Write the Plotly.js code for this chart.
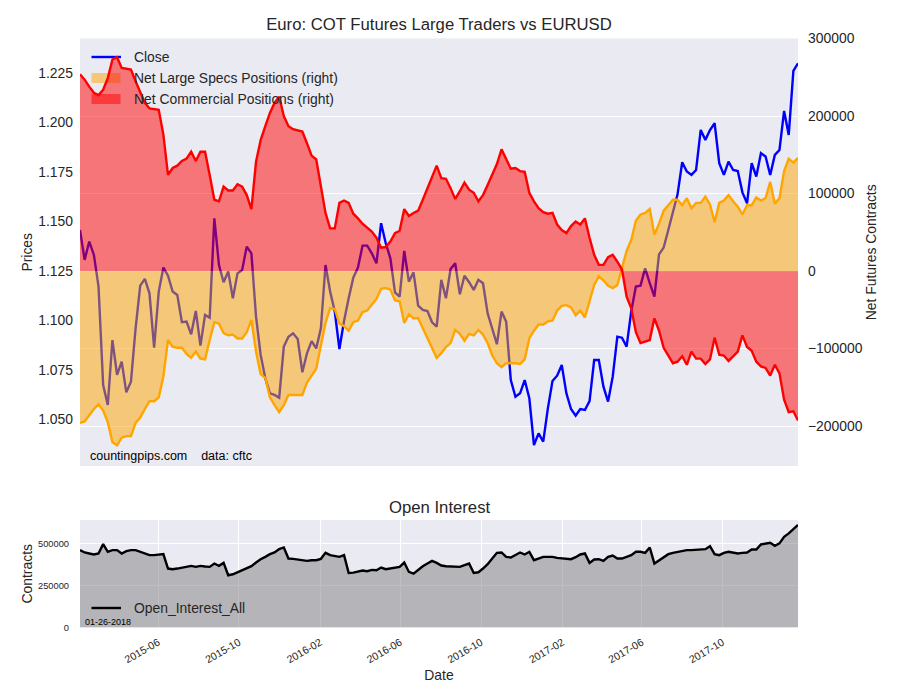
<!DOCTYPE html>
<html>
<head>
<meta charset="utf-8">
<script src="https://cdn.plot.ly/plotly-3.0.1.min.js"></script>
<style>html,body{margin:0;padding:0;background:#fff;}#chart{width:900px;height:700px;}</style>
</head>
<body>
<div id="chart"></div>
<script>
// Weekly COT report dates (Tuesdays)
const dates = [
'2015-02-03','2015-02-10','2015-02-17','2015-02-24','2015-03-03','2015-03-10','2015-03-17','2015-03-24','2015-03-31','2015-04-07',
'2015-04-14','2015-04-21','2015-04-28','2015-05-05','2015-05-12','2015-05-19','2015-05-26','2015-06-02','2015-06-09','2015-06-16',
'2015-06-23','2015-06-30','2015-07-07','2015-07-14','2015-07-21','2015-07-28','2015-08-04','2015-08-11','2015-08-18','2015-08-25',
'2015-09-01','2015-09-08','2015-09-15','2015-09-22','2015-09-29','2015-10-06','2015-10-13','2015-10-20','2015-10-27','2015-11-03',
'2015-11-10','2015-11-17','2015-11-24','2015-12-01','2015-12-08','2015-12-15','2015-12-22','2015-12-29','2016-01-05','2016-01-12',
'2016-01-19','2016-01-26','2016-02-02','2016-02-09','2016-02-16','2016-02-23','2016-03-01','2016-03-08','2016-03-15','2016-03-22',
'2016-03-29','2016-04-05','2016-04-12','2016-04-19','2016-04-26','2016-05-03','2016-05-10','2016-05-17','2016-05-24','2016-05-31',
'2016-06-07','2016-06-14','2016-06-21','2016-06-28','2016-07-05','2016-07-12','2016-07-19','2016-07-26','2016-08-02','2016-08-09',
'2016-08-16','2016-08-23','2016-08-30','2016-09-06','2016-09-13','2016-09-20','2016-09-27','2016-10-04','2016-10-11','2016-10-18',
'2016-10-25','2016-11-01','2016-11-08','2016-11-15','2016-11-22','2016-11-29','2016-12-06','2016-12-13','2016-12-20','2016-12-27',
'2017-01-03','2017-01-10','2017-01-17','2017-01-24','2017-01-31','2017-02-07','2017-02-14','2017-02-21','2017-02-28','2017-03-07',
'2017-03-14','2017-03-21','2017-03-28','2017-04-04','2017-04-11','2017-04-18','2017-04-25','2017-05-02','2017-05-09','2017-05-16',
'2017-05-23','2017-05-30','2017-06-06','2017-06-13','2017-06-20','2017-06-27','2017-07-04','2017-07-11','2017-07-18','2017-07-25',
'2017-08-01','2017-08-08','2017-08-15','2017-08-22','2017-08-29','2017-09-05','2017-09-12','2017-09-19','2017-09-26','2017-10-03',
'2017-10-10','2017-10-17','2017-10-24','2017-10-31','2017-11-07','2017-11-14','2017-11-21','2017-11-28','2017-12-05','2017-12-12',
'2017-12-19','2017-12-26','2018-01-02','2018-01-09','2018-01-16','2018-01-23'
];

// EURUSD close
const closeVals = [
1.1457,1.1306,1.1398,1.1331,1.1171,1.0674,1.0573,1.0901,1.0725,1.0792,
1.0637,1.0691,1.0960,1.1176,1.1210,1.1137,1.0863,1.1146,1.1267,1.1226,
1.1146,1.1129,1.0991,1.0994,1.0930,1.1048,1.0873,1.1028,1.1014,1.1516,
1.1280,1.1193,1.1247,1.1112,1.1238,1.1255,1.1373,1.1339,1.1019,1.0826,
1.0708,1.0632,1.0624,1.0610,1.0868,1.0918,1.0935,1.0906,1.0738,1.0834,
1.0896,1.0859,1.0960,1.1280,1.1146,1.1045,1.0856,1.0997,1.1112,1.1216,
1.1267,1.1378,1.1378,1.1339,1.1289,1.1491,1.1390,1.1314,1.1142,1.1120,
1.1351,1.1196,1.1243,1.1075,1.1053,1.1048,1.0991,1.0969,1.1205,1.1112,
1.1260,1.1289,1.1132,1.1226,1.1193,1.1154,1.1205,1.1188,1.1036,1.0960,
1.0880,1.1045,1.0994,1.0699,1.0615,1.0632,1.0699,1.0607,1.0371,1.0430,
1.0388,1.0556,1.0694,1.0721,1.0775,1.0632,1.0553,1.0519,1.0553,1.0548,
1.0593,1.0800,1.0800,1.0666,1.0590,1.0716,1.0918,1.0913,1.0868,1.1045,
1.1171,1.1176,1.1263,1.1188,1.1120,1.1334,1.1368,1.1457,1.1550,1.1637,
1.1799,1.1752,1.1735,1.1760,1.1962,1.1912,1.1962,1.1996,1.1794,1.1735,
1.1802,1.1760,1.1755,1.1647,1.1592,1.1794,1.1727,1.1845,1.1828,1.1735,
1.1836,1.1861,1.2058,1.1937,1.2260,1.2299
];

// Net large speculator positions (contracts)
const specVals = [
-196000,-194000,-186000,-178000,-172000,-180000,-195000,-221000,-225000,-215000,
-213000,-213000,-196000,-189000,-178000,-168000,-168000,-163000,-136000,-89000,
-98000,-99000,-99000,-107000,-112000,-104000,-113000,-114000,-89000,-66000,
-68000,-80000,-83000,-82000,-87000,-87000,-79000,-63000,-104000,-133000,
-138000,-163000,-173000,-182000,-173000,-160000,-160000,-160000,-160000,-144000,
-135000,-126000,-96000,-67000,-48000,-49000,-68000,-71000,-77000,-66000,
-64000,-53000,-51000,-44000,-36000,-23000,-22000,-24000,-38000,-39000,
-67000,-56000,-61000,-61000,-74000,-87000,-100000,-112000,-106000,-98000,
-93000,-76000,-81000,-90000,-81000,-83000,-76000,-82000,-93000,-109000,
-119000,-124000,-119000,-119000,-119000,-120000,-114000,-87000,-77000,-69000,
-69000,-65000,-64000,-51000,-45000,-44000,-47000,-57000,-51000,-60000,
-39000,-18000,-7000,-12000,-19000,-22000,-18000,5000,26000,40000,
65000,73000,75000,80000,47000,61000,78000,85000,92000,92000,
85000,94000,81000,88000,88000,96000,86000,63000,88000,91000,
98000,90000,83000,73000,85000,85000,95000,91000,94000,115000,
87000,94000,129000,145000,140000,146000
];

// Net commercial positions (contracts)
const commVals = [
254000,247000,238000,230000,227000,234000,249000,273000,276000,262000,
261000,260000,245000,230000,217000,210000,209000,208000,176000,124000,
133000,136000,142000,145000,154000,142000,154000,154000,124000,92000,
90000,109000,104000,104000,112000,109000,98000,80000,141000,169000,
187000,204000,217000,225000,200000,187000,183000,181000,180000,165000,
149000,144000,111000,75000,55000,55000,88000,91000,88000,74000,
68000,61000,56000,51000,43000,30000,31000,38000,49000,52000,
80000,71000,75000,78000,92000,106000,122000,136000,120000,119000,
107000,93000,103000,114000,105000,101000,90000,98000,111000,124000,
138000,157000,145000,132000,133000,129000,128000,101000,90000,81000,
76000,74000,75000,60000,53000,49000,58000,64000,60000,68000,
43000,21000,8000,8000,18000,21000,12000,2000,-33000,-48000,
-79000,-93000,-91000,-89000,-61000,-77000,-99000,-109000,-119000,-117000,
-110000,-121000,-104000,-113000,-113000,-120000,-114000,-86000,-108000,-109000,
-116000,-110000,-104000,-83000,-98000,-103000,-117000,-123000,-125000,-135000,
-121000,-132000,-166000,-182000,-181000,-193000
];

// Open interest (all)
const oiVals = [
462000,448000,442000,436000,442000,498000,452000,462000,462000,442000,
456000,462000,462000,452000,442000,432000,432000,436000,438000,352000,
348000,352000,358000,362000,368000,362000,368000,364000,362000,382000,
368000,386000,312000,318000,330000,342000,352000,366000,388000,408000,
422000,438000,448000,468000,478000,412000,410000,406000,406000,398000,
402000,402000,410000,446000,432000,426000,422000,432000,326000,328000,
334000,340000,336000,344000,342000,358000,348000,352000,354000,362000,
388000,332000,322000,346000,366000,382000,398000,386000,370000,366000,
366000,362000,362000,372000,382000,326000,330000,352000,378000,412000,
446000,448000,422000,418000,432000,448000,436000,452000,402000,410000,
422000,422000,422000,416000,412000,412000,408000,420000,436000,442000,
386000,406000,408000,398000,422000,430000,412000,412000,422000,432000,
452000,452000,446000,478000,382000,400000,422000,438000,446000,452000,
458000,462000,462000,464000,466000,468000,486000,438000,432000,446000,
452000,448000,442000,446000,448000,466000,466000,496000,502000,506000,
488000,502000,542000,562000,588000,612000
];

// Tick labels
const priceTicks = [1.050, 1.075, 1.100, 1.125, 1.150, 1.175, 1.200, 1.225];
const netTicks = [-200000, -100000, 0, 100000, 200000, 300000];
const oiTicks = [0, 250000, 500000];
const dateTicks = ['2015-06-01','2015-10-01','2016-02-01','2016-06-01','2016-10-01','2017-02-01','2017-06-01','2017-10-01'];
const dateTickText = ['2015-06','2015-10','2016-02','2016-06','2016-10','2017-02','2017-06','2017-10'];

const FONT = 'Liberation Sans, Arial, Helvetica, sans-serif';
const TXT = '#262626';
const BG = '#EAEAF2';
const xRange = [dates[0], dates[dates.length - 1]];

const traces = [
  {x: dates, y: closeVals, xaxis: 'x', yaxis: 'y', type: 'scatter', mode: 'lines',
   name: 'Close', line: {color: '#0000FF', width: 2.4}, showlegend: false},
  {x: dates, y: specVals, xaxis: 'x', yaxis: 'y2', type: 'scatter', mode: 'lines',
   name: 'Net Large Specs Positions (right)', fill: 'tozeroy', fillcolor: 'rgba(255,165,0,0.5)',
   line: {color: '#FFA500', width: 2.4}, showlegend: false},
  {x: dates, y: commVals, xaxis: 'x', yaxis: 'y2', type: 'scatter', mode: 'lines',
   name: 'Net Commercial Positions (right)', fill: 'tozeroy', fillcolor: 'rgba(255,0,0,0.5)',
   line: {color: '#FF0000', width: 2.4}, showlegend: false},
  {x: dates, y: oiVals, xaxis: 'x2', yaxis: 'y3', type: 'scatter', mode: 'lines',
   name: 'Open_Interest_All', fill: 'tozeroy', fillcolor: 'rgba(128,128,128,0.5)',
   line: {color: '#000000', width: 2.4}, showlegend: false}
];

const px = v => (v - 80) / 718;       // pixel x -> paper x
const py = v => (700 - v) / 700;      // pixel y -> paper y

const layout = {
  width: 900, height: 700,
  margin: {l: 80, r: 102, t: 0, b: 0, pad: 0, autoexpand: false},
  paper_bgcolor: '#FFFFFF',
  plot_bgcolor: BG,
  font: {family: FONT, color: TXT, size: 13.9},
  showlegend: false,
  title: {text: 'Euro: COT Futures Large Traders vs EURUSD', font: {size: 16.7, color: TXT, family: FONT},
          x: 0.5, xref: 'paper', xanchor: 'center', y: py(24), yref: 'container', yanchor: 'middle'},
  xaxis: {domain: [0, 1], anchor: 'y', type: 'date', range: xRange, showticklabels: false,
          showgrid: false, zeroline: false, showline: false, ticks: ''},
  yaxis: {domain: [py(466), py(38.5)], anchor: 'x', range: [1.0265, 1.2424],
          tickmode: 'array', tickvals: priceTicks, tickformat: '.3f',
          showgrid: false, zeroline: false, showline: false, ticks: '', ticklabelstandoff: 6,
          tickfont: {size: 13.9, color: TXT},
          title: {text: 'Prices', font: {size: 13.9, color: TXT}, standoff: 2}, automargin: 'left'},
  yaxis2: {overlaying: 'y', anchor: 'x', side: 'right', range: [-251600, 300100],
           tickmode: 'array', tickvals: netTicks, tickformat: 'd',
           showgrid: true, gridcolor: '#FFFFFF', gridwidth: 1, zeroline: false, showline: false,
           ticks: '', ticklabelstandoff: 9, tickfont: {size: 13.9, color: TXT},
           title: {text: 'Net Futures Contracts', font: {size: 13.9, color: TXT}, standoff: 4}, automargin: 'right'},
  xaxis2: {domain: [0, 1], anchor: 'y3', type: 'date', range: xRange,
           tickmode: 'array', tickvals: dateTicks, ticktext: dateTickText, tickangle: -30,
           tickfont: {size: 10.5, color: TXT}, showgrid: true, gridcolor: '#FFFFFF', gridwidth: 1,
           zeroline: false, showline: false, ticks: '', ticklabelstandoff: 6,
           title: {text: 'Date', font: {size: 13.9, color: TXT}, standoff: 5}, automargin: 'bottom'},
  yaxis3: {domain: [py(627.5), py(520)], anchor: 'x2', range: [0, 642000],
           tickmode: 'array', tickvals: oiTicks, tickformat: 'd',
           showgrid: true, gridcolor: '#FFFFFF', gridwidth: 1, zeroline: false, showline: false,
           ticks: '', ticklabelstandoff: 10, tickfont: {size: 9.3, color: TXT},
           title: {text: 'Contracts', font: {size: 13.9, color: TXT}, standoff: 2}, automargin: 'left'},
  shapes: [
    {type: 'line', xref: 'paper', yref: 'paper', x0: px(91.5), x1: px(121), y0: py(57), y1: py(57),
     line: {color: '#0000FF', width: 2.4}, layer: 'below'},
    {type: 'rect', xref: 'paper', yref: 'paper', x0: px(91.5), x1: px(120.5), y0: py(83), y1: py(73),
     fillcolor: 'rgba(255,165,0,0.5)', line: {width: 0}, layer: 'below'},
    {type: 'rect', xref: 'paper', yref: 'paper', x0: px(91.5), x1: px(120.5), y0: py(104), y1: py(94),
     fillcolor: 'rgba(255,0,0,0.5)', line: {width: 0}, layer: 'below'},
    {type: 'line', xref: 'paper', yref: 'paper', x0: px(91.5), x1: px(121), y0: py(608), y1: py(608),
     line: {color: '#000000', width: 2.4}, layer: 'above'}
  ],
  annotations: [
    {text: 'Close', xref: 'paper', yref: 'paper', x: px(132), y: py(57), xanchor: 'left', yanchor: 'middle',
     showarrow: false, font: {size: 13.9, color: TXT}},
    {text: 'Net Large Specs Positions (right)', xref: 'paper', yref: 'paper', x: px(132), y: py(78),
     xanchor: 'left', yanchor: 'middle', showarrow: false, font: {size: 13.9, color: TXT}},
    {text: 'Net Commercial Positions (right)', xref: 'paper', yref: 'paper', x: px(132), y: py(99),
     xanchor: 'left', yanchor: 'middle', showarrow: false, font: {size: 13.9, color: TXT}},
    {text: 'countingpips.com\u00a0\u00a0\u00a0\u00a0data: cftc', xref: 'paper', yref: 'paper', x: px(88), y: py(456),
     xanchor: 'left', yanchor: 'middle', showarrow: false, font: {size: 12.5, color: '#000000'}},
    {text: 'Open Interest', xref: 'paper', yref: 'paper', x: 0.5, y: py(507), xanchor: 'center', yanchor: 'middle',
     showarrow: false, font: {size: 16.7, color: TXT}},
    {text: 'Open_Interest_All', xref: 'paper', yref: 'paper', x: px(132), y: py(608), xanchor: 'left', yanchor: 'middle',
     showarrow: false, font: {size: 13.9, color: TXT}},
    {text: '01-26-2018', xref: 'paper', yref: 'paper', x: px(83), y: py(622), xanchor: 'left', yanchor: 'middle',
     showarrow: false, font: {size: 9, color: '#000000'}}
  ]
};

Plotly.newPlot('chart', traces, layout, {staticPlot: true, displayModeBar: false});
</script>
</body>
</html>
